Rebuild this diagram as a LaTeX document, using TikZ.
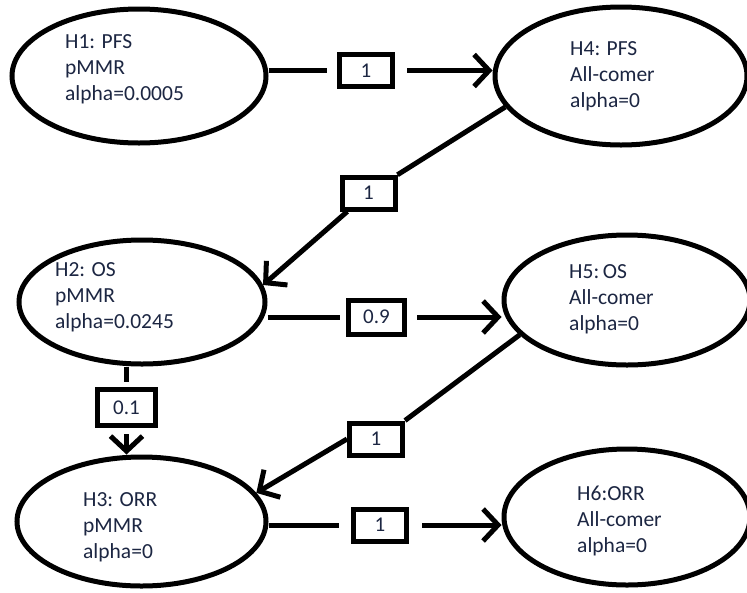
\documentclass[tikz,border=0pt]{standalone}
\usepackage{fontspec}
\setmainfont{Carlito}
\usetikzlibrary{shapes.geometric,arrows.meta}
\definecolor{txt}{RGB}{28,38,66}
\tikzset{
  hyp/.style={ellipse, draw, line width=5pt, inner sep=0pt},
  lbl/.style={anchor=base west, align=left, inner sep=0pt, text=txt, font=\fontsize{21.5}{26}\selectfont},
  wbox/.style={draw, line width=5pt, fill=white, inner sep=0pt, minimum width=53pt, minimum height=32pt, text=txt, font=\fontsize{21}{25}\selectfont},
  conn/.style={line width=5pt},
  arr/.style={line width=5pt, -{Straight Barb[length=15pt,width=32pt]}}
}
\begin{document}
\begin{tikzpicture}[x=1pt,y=-1pt]
\useasboundingbox (0,0) rectangle (747,592);
\clip (0,0) rectangle (747,592);
\fill[white] (0,0) rectangle (747,592);
% ellipses
\node[hyp, minimum width=254pt, minimum height=134pt] (h1) at (139,76) {};
\node[hyp, minimum width=252pt, minimum height=138pt] (h4) at (621,76) {};
\node[hyp, minimum width=246pt, minimum height=124pt] (h2) at (142,302) {};
\node[hyp, minimum width=246pt, minimum height=130pt] (h5) at (627,300) {};
\node[hyp, minimum width=249pt, minimum height=129pt] (h3) at (141.5,521.5) {};
\node[hyp, minimum width=246pt, minimum height=136pt] (h6) at (627,517) {};
% texts (anchored at the baseline of their last line)
\node[lbl] (t1) at (65,100) {H1: PFS\\pMMR\\alpha=0.0005};
\node[lbl] (t4) at (570,107) {H4: PFS\\All-comer\\alpha=0};
\node[lbl] (t2) at (55,328) {H2: OS\\pMMR\\alpha=0.0245};
\node[lbl] (t5) at (569,330) {H5:\,OS\\All-comer\\alpha=0};
\node[lbl] (t3) at (83,558) {H3: ORR\\pMMR\\alpha=0};
\node[lbl] (t6) at (577,552) {H6:ORR\\All-comer\\alpha=0};
% weight boxes
\node[wbox] (b1) at (366,70.5) {1};
\node[wbox] (b2) at (368.5,193) {1};
\node[wbox, minimum width=56pt, minimum height=34pt] (b3) at (376.5,317) {0.9};
\node[wbox] (b4) at (376,439) {1};
\node[wbox, minimum width=58pt, minimum height=36pt] (b5) at (126.5,407.5) {0.1};
\node[wbox] (b6) at (380,525) {1};
% connectors
\draw[conn, shorten >=10pt] (b1.west -| h1.east) -- (b1.west);
\draw[arr, shorten <=12pt] (b1.east) -- (b1.east -| h4.west);
\draw[conn] (h4.195) -- (b2);
\draw[arr] (b2) -- (h2.8);
\draw[conn, shorten >=6pt] (b3.west -| h2.east) -- (b3.west);
\draw[arr, shorten <=10pt] (b3.east) -- (b3.east -| h5.west);
\draw[conn] (h5.198) -- (b4.north east);
\draw[arr] (b4.west) -- (h3.14);
\draw[conn, shorten >=5pt] (b5.north |- h2.south) -- (b5.north);
\draw[arr, shorten <=6pt] (b5.south) -- (b5.south |- h3.north);
\draw[conn, shorten >=12pt] (b6.west -| h3.east) -- (b6.west);
\draw[arr, shorten <=13pt] (b6.east) -- (b6.east -| h6.west);
\end{tikzpicture}
\end{document}
